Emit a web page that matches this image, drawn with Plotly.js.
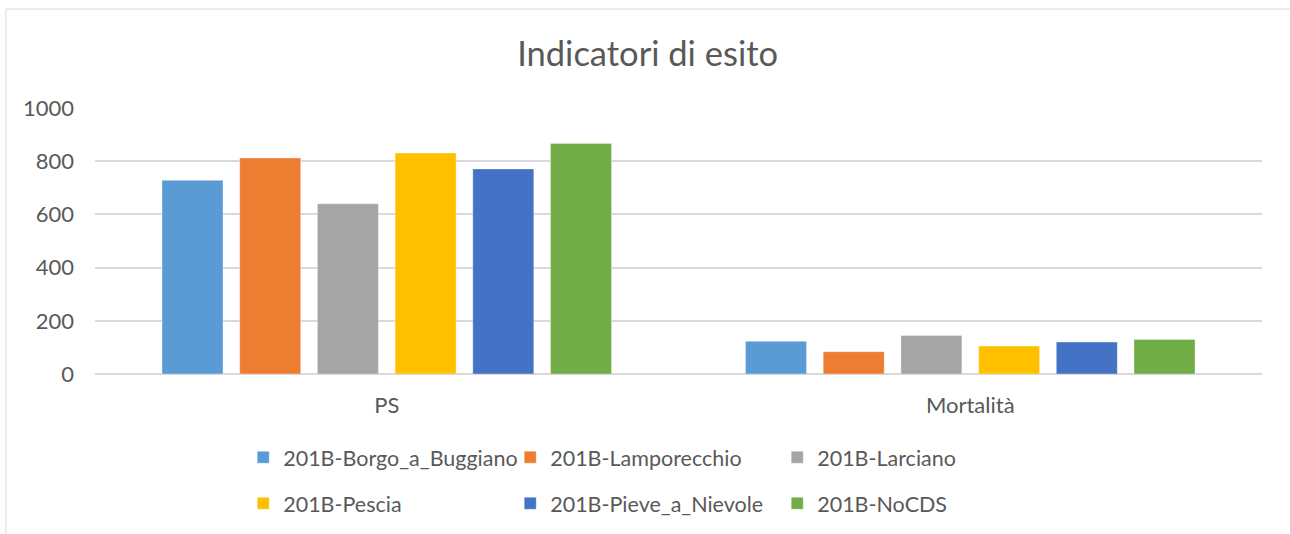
<!DOCTYPE html>
<html>
<head>
<meta charset="utf-8">
<script src="https://cdn.plot.ly/plotly-3.0.1.min.js"></script>
<style>html,body{margin:0;padding:0;background:#fff;}#chart{width:1290px;height:534px;}</style>
</head>
<body>
<div id="chart"></div>
<script>
const categories = ["PS", "Mortalità"];
const seriesNames = ["201B-Borgo_a_Buggiano", "201B-Lamporecchio", "201B-Larciano", "201B-Pescia", "201B-Pieve_a_Nievole", "201B-NoCDS"];
const borgo = [728, 123];
const lamporecchio = [812, 84];
const larciano = [640, 145];
const pescia = [831, 105];
const pieve = [771, 120];
const nocds = [867, 130];
const yTicks = [0, 200, 400, 600, 800, 1000];

const seriesValues = [borgo, lamporecchio, larciano, pescia, pieve, nocds];
const colors = ["#5B9BD5", "#ED7D31", "#A5A5A5", "#FFC000", "#4472C4", "#70AD47"];
const legends = ["legend", "legend", "legend", "legend2", "legend2", "legend2"];

const font = "Lato, 'Open Sans', sans-serif";
const textColor = "#595959";

const traces = seriesNames.map((name, i) => ({
  type: "bar",
  name: name,
  x: categories,
  y: seriesValues[i],
  marker: {color: colors[i], line: {color: "rgba(255,255,255,0.35)", width: 1}},
  legend: legends[i],
  hoverinfo: "x+y+name"
}));

const legendCommon = {
  orientation: "h",
  xanchor: "left",
  yanchor: "middle",
  x: 0.127,
  entrywidth: 222,
  entrywidthmode: "pixels",
  font: {family: font, size: 21.5, color: textColor},
  bgcolor: "rgba(0,0,0,0)",
  traceorder: "normal"
};

const layout = {
  width: 1290,
  height: 534,
  margin: {l: 95, r: 28, t: 108, b: 160, autoexpand: false},
  paper_bgcolor: "#ffffff",
  plot_bgcolor: "#ffffff",
  barmode: "group",
  bargap: 0.201,
  bargroupgap: 0.215,
  title: {
    text: "Indicatori di esito",
    font: {family: font, size: 34.5, color: textColor},
    x: 0.502, xref: "container", xanchor: "center",
    y: 55, yref: "container", yanchor: "middle"
  },
  xaxis: {
    type: "category",
    tickfont: {family: font, size: 22, color: textColor},
    showgrid: false,
    showline: false,
    ticks: "",
    ticklabelstandoff: 16
  },
  yaxis: {
    range: [0, 1000],
    tickvals: yTicks,
    ticktext: yTicks.map(String),
    tickfont: {family: font, size: 22, color: textColor},
    showgrid: true,
    gridcolor: "#D9D9D9",
    gridwidth: 1.5,
    zeroline: true,
    zerolinecolor: "#D9D9D9",
    zerolinewidth: 1.5,
    showline: false,
    ticks: "",
    ticklabelstandoff: 20
  },
  legend: Object.assign({}, legendCommon, {y: -0.313}),
  legend2: Object.assign({}, legendCommon, {y: -0.486}),
  showlegend: true,
  shapes: [
    {type: "line", xref: "paper", yref: "paper", x0: -0.0763, x1: 1.03, y0: 1.372, y1: 1.372, line: {color: "#D9D9D9", width: 1}},
    {type: "line", xref: "paper", yref: "paper", x0: -0.0763, x1: -0.0763, y0: 1.372, y1: -0.62, line: {color: "#D9D9D9", width: 1}}
  ]
};

Plotly.newPlot("chart", traces, layout, {displayModeBar: false, staticPlot: false});
</script>
</body>
</html>
